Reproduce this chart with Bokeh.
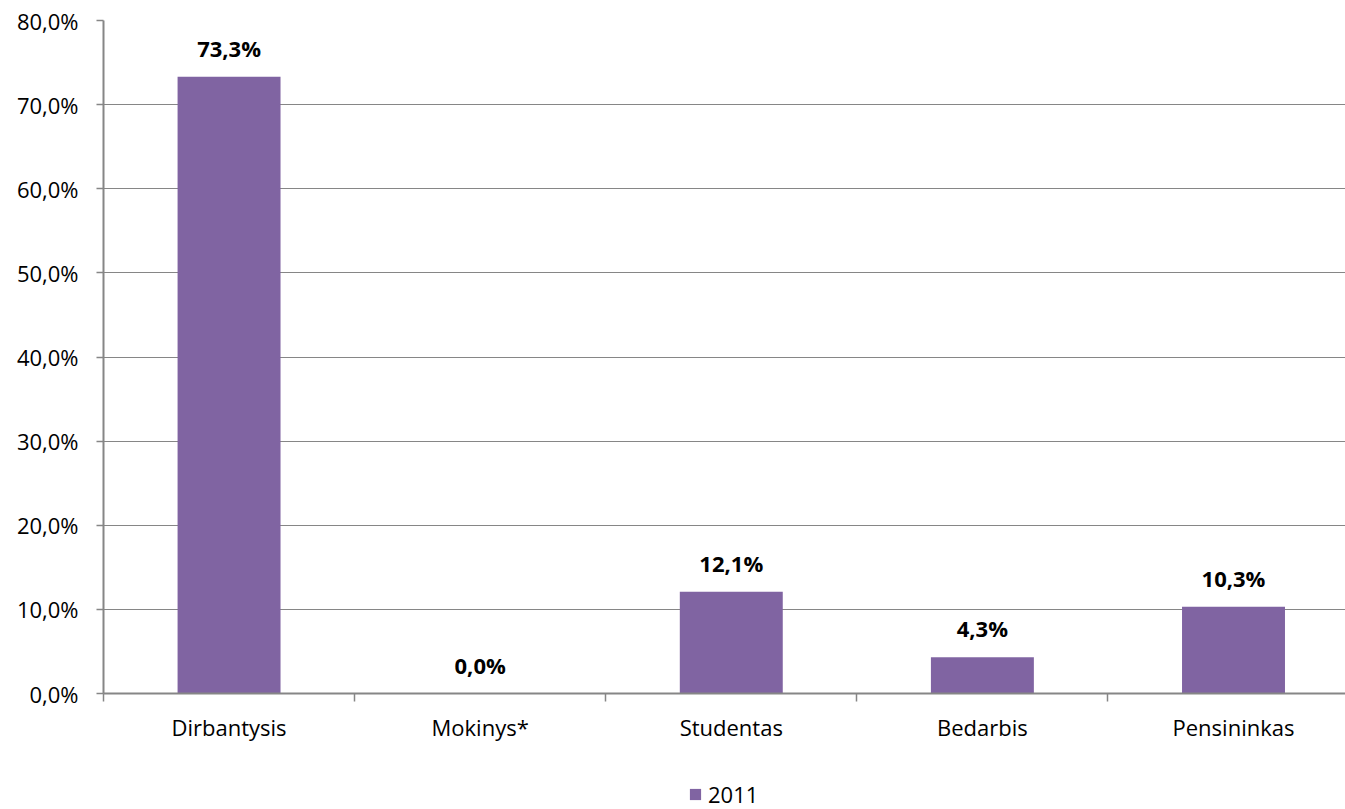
from bokeh.plotting import figure
from bokeh.models import (Range1d, FixedTicker, ColumnDataSource, Legend, LegendItem,
                          LinearAxis, Grid)
from bokeh.layouts import column
from bokeh.embed import file_html
from bokeh.resources import INLINE
from bokeh.core.properties import value

categories = ["Dirbantysis", "Mokinys*", "Studentas", "Bedarbis", "Pensininkas"]
values_2011 = [73.3, 0.0, 12.1, 4.3, 10.3]
y_ticks = [0, 10, 20, 30, 40, 50, 60, 70, 80]
y_tick_labels = ["0,0%", "10,0%", "20,0%", "30,0%", "40,0%", "50,0%", "60,0%", "70,0%", "80,0%"]
series_name = "2011"

FONT = "Open Sans"
PURPLE = "#8064A2"
GRAY = "#868686"

xs = [i + 0.5 for i in range(len(categories))]
labels = [("%.1f" % v).replace(".", ",") + "%" for v in values_2011]
src = ColumnDataSource(dict(x=xs, top=values_2011, label=labels))

p = figure(width=1345, height=753, output_backend="svg", toolbar_location=None,
           x_range=Range1d(0, 4.946), y_range=Range1d(0, 80),
           x_axis_location=None, y_axis_location=None,
           min_border_left=103, min_border_top=20, min_border_right=0, min_border_bottom=60,
           frame_height=673, frame_width=1242)
p.outline_line_color = None
p.background_fill_color = "white"

yaxis = LinearAxis(ticker=FixedTicker(ticks=y_ticks, minor_ticks=[]))
yaxis.major_label_overrides = {t: l for t, l in zip(y_ticks, y_tick_labels)}
yaxis.axis_line_color = GRAY
yaxis.axis_line_width = 2
yaxis.major_tick_line_color = GRAY
yaxis.major_tick_line_width = 1.5
yaxis.major_tick_out = 7
yaxis.major_tick_in = 0
yaxis.major_label_standoff = 18
yaxis.major_label_text_font = FONT
yaxis.major_label_text_font_size = "22px"
yaxis.major_label_text_color = "#000000"
p.add_layout(yaxis, "left")

xaxis = LinearAxis(ticker=FixedTicker(ticks=xs, minor_ticks=[0, 1, 2, 3, 4, 5]))
xaxis.major_label_overrides = {x: c for x, c in zip(xs, categories)}
xaxis.axis_line_color = GRAY
xaxis.axis_line_width = 2
xaxis.major_tick_line_color = None
xaxis.major_tick_out = 0
xaxis.major_tick_in = 0
xaxis.minor_tick_line_color = GRAY
xaxis.minor_tick_line_width = 1.5
xaxis.minor_tick_out = 8
xaxis.minor_tick_in = 0
xaxis.major_label_standoff = 10
xaxis.major_label_text_font = FONT
xaxis.major_label_text_font_size = "22px"
xaxis.major_label_text_color = "#000000"
p.add_layout(xaxis, "below")

p.xgrid.grid_line_color = None
p.ygrid.grid_line_color = None
p.add_layout(Grid(dimension=1, ticker=yaxis.ticker, grid_line_color=GRAY, grid_line_width=1))

r = p.vbar(x="x", top="top", width=0.41, bottom=0, source=src,
           fill_color=PURPLE, line_color=None)

p.text(x="x", y="top", text="label", source=src, text_align="center",
       text_baseline="alphabetic", y_offset=-29, text_font=value(FONT),
       text_font_style="bold", text_font_size="22px", text_color="#000000")

# legend strip below the chart (its bar sits outside the strip's visible range)
p2 = figure(width=1345, height=56, output_backend="svg", toolbar_location=None,
            x_range=Range1d(0, 1), y_range=Range1d(0, 1),
            x_axis_location=None, y_axis_location=None,
            min_border_left=0, min_border_right=0, min_border_top=0, min_border_bottom=0)
p2.outline_line_color = None
p2.xgrid.grid_line_color = None
p2.ygrid.grid_line_color = None
r2 = p2.vbar(x=[10], top=[1], width=0.41, bottom=0, fill_color=PURPLE, line_color=None)

legend = Legend(items=[LegendItem(label=series_name, renderers=[r2])],
                location=(585, 0), orientation="horizontal",
                border_line_color=None, background_fill_alpha=0,
                label_text_font=FONT, label_text_font_size="22px",
                label_text_color="#000000",
                glyph_width=14, glyph_height=14, label_standoff=6,
                padding=0, margin=0, label_height=14)
legend.spacing = 0
p2.add_layout(legend, "center")

layout = column(p, p2, spacing=0)
open("out.html", "w").write(file_html(layout, INLINE))
